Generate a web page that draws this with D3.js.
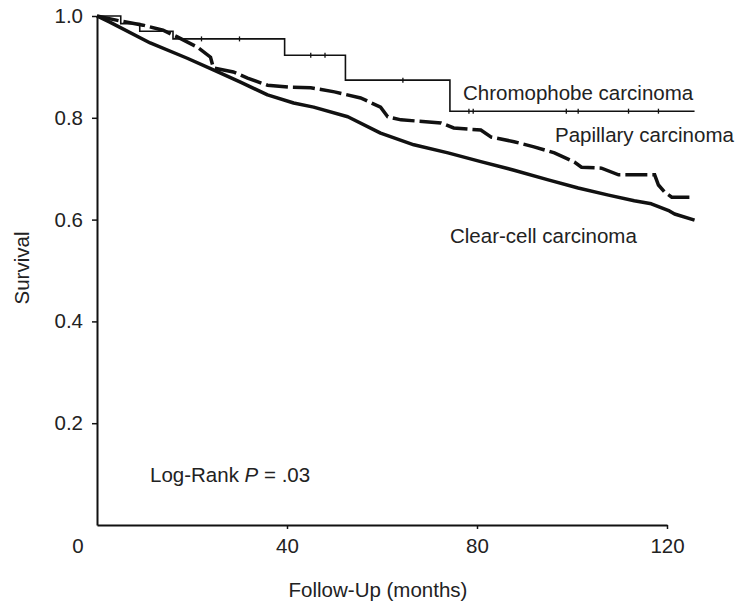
<!DOCTYPE html>
<html>
<head>
<meta charset="utf-8">
<script src="https://cdn.jsdelivr.net/npm/d3@7"></script>
<style>
  body { margin: 0; background: #fff; }
  svg text { font-family: "Liberation Sans", Arial, Helvetica, sans-serif; fill: #222; }
</style>
</head>
<body>
<div id="chart"></div>
<script>
// values (months, survival fraction)
const CHROMO_TIME = [0, 5, 9, 16, 39.5, 52.3, 74.3, 125.8];
const CHROMO_SURV = [1.0, 0.985, 0.97, 0.955, 0.923, 0.874, 0.813, 0.813];
const CHROMO_CENSOR = [22, 30, 45, 48, 64.4, 78.3, 79.2, 98.8, 101.3, 111.9, 118.2];

const PAP_TIME = [0, 5, 9.7, 13.9, 16.9, 21.1, 23.9, 24.5, 28.7, 31.7, 35.9, 40.7, 45, 50, 55.5, 59.7, 61.2, 64, 72.4, 75.1, 80.8, 83, 87.8, 92, 96.3, 100.5, 102, 106.2, 109.8, 114.6, 117.4, 118.2, 119.5, 121, 125.6];
const PAP_SURV = [1.0, 0.99, 0.982, 0.972, 0.959, 0.939, 0.919, 0.898, 0.89, 0.878, 0.864, 0.86, 0.859, 0.851, 0.839, 0.821, 0.802, 0.796, 0.79, 0.78, 0.776, 0.762, 0.753, 0.743, 0.731, 0.713, 0.703, 0.701, 0.688, 0.688, 0.688, 0.668, 0.654, 0.644, 0.644];

const CLEAR_TIME = [0, 2.7, 11.2, 19, 24.5, 30.2, 35.9, 41.4, 45.6, 52.8, 59.7, 66.7, 73.9, 80.8, 87.8, 95, 101.3, 107.7, 113.1, 116.7, 120.5, 121.6, 125.8];
const CLEAR_SURV = [1.0, 0.988, 0.947, 0.917, 0.894, 0.87, 0.845, 0.829, 0.821, 0.802, 0.77, 0.747, 0.731, 0.714, 0.697, 0.678, 0.662, 0.648, 0.637, 0.631, 0.617, 0.611, 0.599];

const X_TICKS = [40, 80, 120];
const Y_TICKS = [0.2, 0.4, 0.6, 0.8, 1.0];

const WIDTH = 740, HEIGHT = 603;
const FONT = 20.5;

const svg = d3.select("#chart").append("svg")
  .attr("width", WIDTH)
  .attr("height", HEIGHT);

const x = d3.scaleLinear().domain([0, 120]).range([97, 667]);
const y = d3.scaleLinear().domain([0, 1]).range([525, 16]);

// axes
const xAxis = svg.append("g")
  .attr("transform", `translate(0,${y(0)})`)
  .call(d3.axisBottom(x).tickValues(X_TICKS).tickSize(4).tickSizeOuter(0).tickPadding(9).tickFormat(d3.format("d")));
const yAxis = svg.append("g")
  .attr("transform", `translate(${x(0)},0)`)
  .call(d3.axisLeft(y).tickValues(Y_TICKS).tickSize(5).tickSizeOuter(0).tickPadding(9).tickFormat(d3.format(".1f")));

[xAxis, yAxis].forEach(g => {
  g.select(".domain").attr("stroke", "#111").attr("stroke-width", 2);
  g.selectAll(".tick line").attr("stroke", "#111").attr("stroke-width", 1.5);
  g.selectAll(".tick text").attr("font-size", FONT).attr("fill", "#222");
});

// shared origin label
svg.append("text")
  .attr("x", 78).attr("y", 553)
  .attr("text-anchor", "middle")
  .attr("font-size", FONT)
  .text("0");

// axis titles
svg.append("text")
  .attr("x", 378).attr("y", 597)
  .attr("text-anchor", "middle")
  .attr("font-size", FONT)
  .text("Follow-Up (months)");
svg.append("text")
  .attr("transform", "translate(29,268) rotate(-90)")
  .attr("text-anchor", "middle")
  .attr("font-size", FONT)
  .text("Survival");

// curves
const zip = (t, s) => t.map((d, i) => [d, s[i]]);
const line = d3.line().x(d => x(d[0])).y(d => y(d[1]));
const stepLine = d3.line().x(d => x(d[0])).y(d => y(d[1])).curve(d3.curveStepAfter);

svg.append("path")
  .datum(zip(CLEAR_TIME, CLEAR_SURV))
  .attr("d", line)
  .attr("fill", "none")
  .attr("stroke", "#111")
  .attr("stroke-width", 3.5)
  .attr("stroke-linejoin", "round");

svg.append("path")
  .datum(zip(PAP_TIME, PAP_SURV))
  .attr("d", line)
  .attr("fill", "none")
  .attr("stroke", "#111")
  .attr("stroke-width", 3.5)
  .attr("stroke-dasharray", "22,5");

svg.append("path")
  .datum(zip(CHROMO_TIME, CHROMO_SURV))
  .attr("d", stepLine)
  .attr("fill", "none")
  .attr("stroke", "#111")
  .attr("stroke-width", 1.6);

// censoring marks on chromophobe curve
const chromoAt = t => CHROMO_SURV[d3.bisectRight(CHROMO_TIME, t) - 1];
svg.append("g").selectAll("line")
  .data(CHROMO_CENSOR)
  .join("line")
  .attr("x1", d => x(d)).attr("x2", d => x(d))
  .attr("y1", d => y(chromoAt(d)) - 2.5)
  .attr("y2", d => y(chromoAt(d)) + 2.5)
  .attr("stroke", "#111")
  .attr("stroke-width", 1.3);

// labels
const labels = [
  { text: "Chromophobe carcinoma", x: 463, y: 100 },
  { text: "Papillary carcinoma", x: 555, y: 142 },
  { text: "Clear-cell carcinoma", x: 450, y: 243 },
];
svg.append("g").selectAll("text")
  .data(labels)
  .join("text")
  .attr("x", d => d.x).attr("y", d => d.y)
  .attr("font-size", FONT)
  .text(d => d.text);

const lr = svg.append("text")
  .attr("x", 150).attr("y", 482)
  .attr("font-size", FONT);
lr.append("tspan").text("Log-Rank ");
lr.append("tspan").attr("font-style", "italic").text("P");
lr.append("tspan").text(" = .03");
</script>
</body>
</html>
